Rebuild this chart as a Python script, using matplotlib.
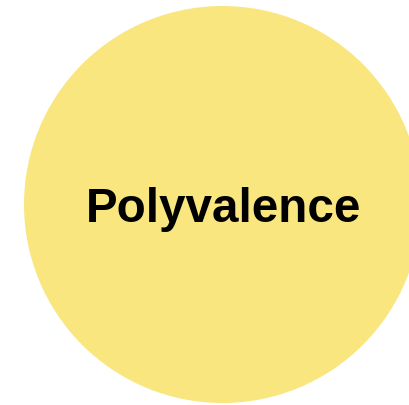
import matplotlib.pyplot as plt
from matplotlib.patches import Circle

labels = ['Polyvalence']
sizes = [1.0]

fig = plt.figure(figsize=(4.09, 4.05), dpi=100)
ax = fig.add_axes([0, 0, 1, 1])
ax.set_xlim(0, 409)
ax.set_ylim(405, 0)
ax.axis('off')

# cercle principal, coupé à droite et en bas
r = 198.5 * sizes[0]
ax.add_patch(Circle((222.5, 204.5), r, color='#F9E67F', lw=0))
ax.text(223.5, 210, labels[0], ha='center', va='center', fontsize=34.3,
        fontweight='bold', family=['Liberation Sans', 'DejaVu Sans'], color='black')

fig.savefig('out.png', dpi=100)
